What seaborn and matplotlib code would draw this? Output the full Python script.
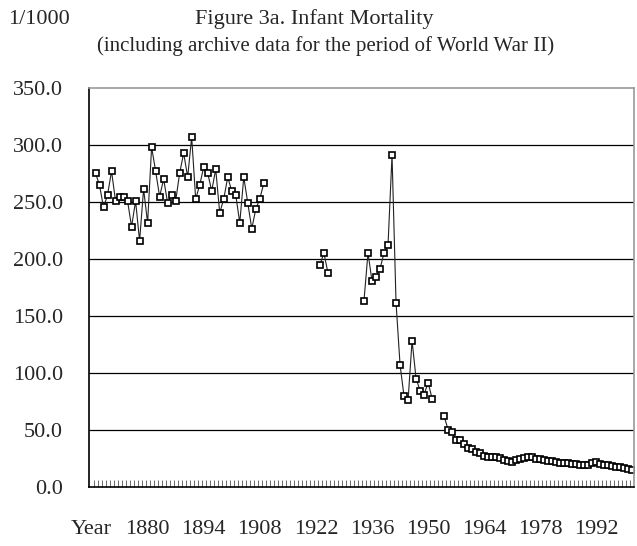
import numpy as np
import pandas as pd
import seaborn as sns
import matplotlib.pyplot as plt
from matplotlib.ticker import FixedLocator, FormatStrFormatter

# category axis: first slot carries the header "Year", then one slot per year
first_slot = 1866
last_slot = 2001
tick_years = [1866, 1880, 1894, 1908, 1922, 1936, 1950, 1964, 1978, 1992]
tick_labels = ["Year", "1880", "1894", "1908", "1922", "1936", "1950", "1964", "1978", "1992"]

years_1 = list(range(1867, 1910))
values_1 = [275.3, 264.8, 245.2, 256.1, 277.0, 250.8, 254.6, 254.6, 250.8, 228.3,
            250.8, 215.8, 261.3, 231.6, 298.1, 277.1, 254.6, 270.1, 249.1, 256.1,
            250.8, 275.3, 292.8, 271.8, 306.8, 252.6, 264.8, 280.6, 275.3, 259.6,
            278.8, 240.3, 252.6, 271.8, 259.6, 256.1, 231.6, 271.8, 249.1, 226.4,
            243.8, 252.6, 266.6]

years_2 = [1923, 1924, 1925]
values_2 = [194.8, 205.3, 187.8]

years_3 = list(range(1934, 1952))
values_3 = [163.3, 205.3, 180.8, 184.3, 191.3, 205.3, 212.3, 291.1, 161.6, 107.3,
            79.4, 75.9, 128.3, 95.1, 84.6, 81.1, 91.6, 77.6]

years_4 = list(range(1954, 2002))
values_4 = [62.0, 50.3, 48.0, 41.0, 41.0, 37.5, 34.0, 33.0, 31.0, 29.5,
            27.5, 26.5, 26.5, 26.5, 25.5, 24.0, 22.5, 22.0, 23.5, 24.5,
            25.5, 26.0, 26.0, 25.0, 24.5, 24.0, 23.0, 22.5, 22.0, 21.5,
            21.0, 21.5, 20.5, 20.0, 19.5, 19.0, 19.5, 21.0, 22.0, 20.5,
            19.5, 19.0, 18.5, 18.0, 18.0, 17.0, 16.0, 15.0]

segments = [(years_1, values_1), (years_2, values_2), (years_3, values_3), (years_4, values_4)]
rows = []
for seg_id, (yrs, vals) in enumerate(segments):
    for yr, v in zip(yrs, vals):
        rows.append({"year": yr, "value": v, "segment": seg_id})
df = pd.DataFrame(rows)

sns.set_theme(style="white")
plt.rcParams["font.family"] = ["Liberation Serif", "DejaVu Serif"]

fig = plt.figure(figsize=(6.37, 5.46), dpi=100)
ax = fig.add_axes([0.1405, 0.108, 0.8555, 0.731])

sns.lineplot(data=df, x="year", y="value", units="segment", estimator=None,
             color="#222222", linewidth=0.8, marker="s", markersize=4.6,
             markerfacecolor="white", markeredgecolor="black", markeredgewidth=1.2,
             ax=ax, legend=False)

ax.set_xlim(first_slot - 0.5, last_slot + 0.5)
ax.set_ylim(0, 350)
ax.set_xlabel("")
ax.set_ylabel("")

# horizontal gridlines
for g in [50, 100, 150, 200, 250, 300]:
    ax.axhline(g, color="black", linewidth=0.9, zorder=0)

ax.set_yticks([0, 50, 100, 150, 200, 250, 300, 350])
ax.yaxis.set_major_formatter(FormatStrFormatter("%.1f"))
ax.tick_params(axis="y", length=0, pad=19, labelsize=16)

ax.set_xticks(tick_years)
ax.set_xticklabels(tick_labels)
ax.tick_params(axis="x", which="major", length=0, pad=24, labelsize=16)
ax.xaxis.set_minor_locator(FixedLocator(np.arange(first_slot + 0.5, last_slot + 0.5, 1.0)))
ax.tick_params(axis="x", which="minor", direction="in", length=5, width=0.6,
               color="#555555", bottom=True)

for side in ["left", "bottom"]:
    ax.spines[side].set_color("black")
    ax.spines[side].set_linewidth(1.2)
for side in ["top", "right"]:
    ax.spines[side].set_visible(True)
    ax.spines[side].set_color("#999999")
    ax.spines[side].set_linewidth(1.2)

fig.text(0.013, 0.964, "1/1000", fontsize=16, ha="left", va="center")
fig.text(0.494, 0.965, "Figure 3a. Infant Mortality", fontsize=16, ha="center", va="center")
fig.text(0.511, 0.916, "(including archive data for the period of World War II)",
         fontsize=15, ha="center", va="center")

fig.savefig("out.png", dpi=100)
